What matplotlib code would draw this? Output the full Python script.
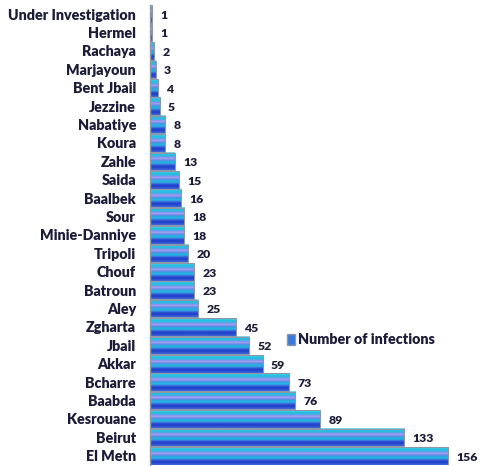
import numpy as np
import matplotlib
matplotlib.use("Agg")
import matplotlib.pyplot as plt
from matplotlib.colors import to_rgb
from matplotlib.patches import Patch

# data, top to bottom as in the chart
districts = ["Under Investigation", "Hermel", "Rachaya", "Marjayoun", "Bent Jbail",
             "Jezzine", "Nabatiye", "Koura", "Zahle", "Saida", "Baalbek", "Sour",
             "Minie-Danniye", "Tripoli", "Chouf", "Batroun", "Aley", "Zgharta",
             "Jbail", "Akkar", "Bcharre", "Baabda", "Kesrouane", "Beirut", "El Metn"]
infections = [1, 1, 2, 3, 4, 5, 8, 8, 13, 15, 16, 18, 18, 20, 23, 23, 25, 45,
              52, 59, 73, 76, 89, 133, 156]
series_name = "Number of infections"

# stripe colours of one bar, top to bottom
stripes = ["#7fd4ec", "#22c4e4", "#22c0e2", "#40b0e6", "#8a96ee", "#9aa0f0",
           "#7a8aea", "#3a9ae0", "#22b8e0", "#2aa6e0", "#3a70dc", "#2848d0",
           "#2040c8", "#2a50d4", "#3a5ed8"]
grad = np.array([to_rgb(c) for c in stripes]).reshape(-1, 1, 3)

txt_col = "#1c1c38"
plt.rcParams["font.family"] = ["Lato", "DejaVu Sans"]
plt.rcParams["font.weight"] = "bold"

fig = plt.figure(figsize=(4.79, 4.66), dpi=100)
ax = fig.add_axes([150 / 479, 1 / 466, 329 / 479, 460 / 466])

n = len(districts)
ypos = np.arange(n)[::-1]
h = 0.96
for y, v in zip(ypos, infections):
    ax.imshow(grad, extent=(0, v, y - h / 2, y + h / 2), aspect="auto",
              origin="upper", interpolation="bilinear", zorder=2)
    ax.add_patch(plt.Rectangle((0, y - h / 2), v, h, fill=False,
                               edgecolor="#8c98a8", linewidth=0.8, zorder=3))
    ax.annotate(str(v), (v, y), xytext=(6, -1), textcoords="offset points",
                va="center", ha="left", fontsize=8.8, fontweight="heavy",
                color=txt_col)

ax.set_xlim(0, 329 / 1.91)
ax.set_ylim(-0.5, n - 0.5)
ax.set_yticks(ypos)
ax.set_yticklabels(districts, fontsize=10.3, fontweight="heavy", color=txt_col)
ax.tick_params(axis="y", length=0, pad=10)
ax.set_xticks([])
for s in ["top", "right", "bottom"]:
    ax.spines[s].set_visible(False)
ax.spines["left"].set_color("#a0a0a0")
ax.spines["left"].set_linewidth(1.0)

handle = Patch(facecolor="#3a78dc", edgecolor="#8c98a8")
fig.legend([handle], [series_name], loc="center left",
           bbox_to_anchor=(274 / 479, 1 - 340 / 466), frameon=False,
           handlelength=0.6, handleheight=0.8, handletextpad=0.15,
           prop={"size": 10.3, "weight": "heavy"}, labelcolor=txt_col)

fig.savefig("out.png", dpi=100)
